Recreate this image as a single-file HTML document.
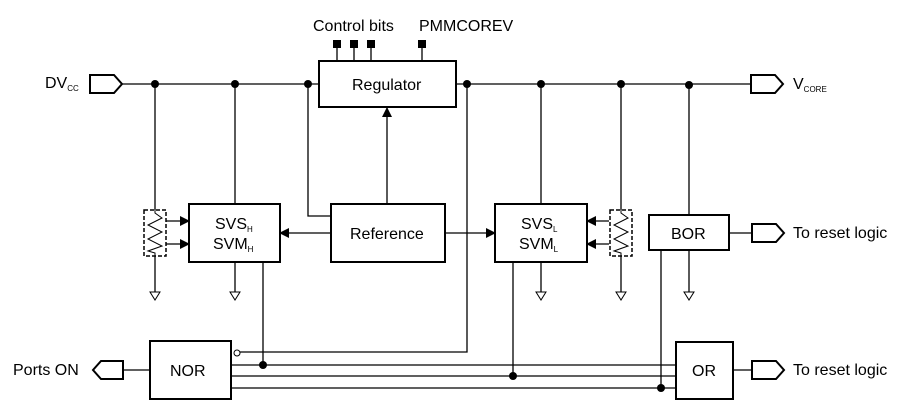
<!DOCTYPE html>
<html><head><meta charset="utf-8"><style>
html,body{margin:0;padding:0;background:#fff;}
svg{display:block;}
text{font-family:"Liberation Sans",Arial,sans-serif;fill:#000;}
</style></head><body>
<svg width="906" height="406" viewBox="0 0 906 406" xmlns="http://www.w3.org/2000/svg">
<defs>
<marker id="a" markerWidth="10" markerHeight="10" refX="9" refY="5" orient="auto" markerUnits="userSpaceOnUse"><path d="M0,0 L10,5 L0,10 Z" fill="#000"/></marker>
</defs>
<g stroke="#000" stroke-width="1.3" fill="none">
<line x1="122" y1="84" x2="319" y2="84"/>
<line x1="456" y1="84" x2="751" y2="84"/>
<line x1="337" y1="44" x2="337" y2="61"/><line x1="354" y1="44" x2="354" y2="61"/>
<line x1="371" y1="44" x2="371" y2="61"/><line x1="422" y1="44" x2="422" y2="61"/>
<line x1="155" y1="84" x2="155" y2="210"/><line x1="155" y1="256" x2="155" y2="292"/>
<line x1="235" y1="84" x2="235" y2="204"/><line x1="235" y1="262" x2="235" y2="292"/>
<line x1="263" y1="262" x2="263" y2="365"/>
<polyline points="308,84 308,216 331,216"/>
<line x1="387" y1="204" x2="387" y2="108" marker-end="url(#a)"/>
<line x1="331" y1="233" x2="280" y2="233" marker-end="url(#a)"/>
<line x1="445" y1="233" x2="495" y2="233" marker-end="url(#a)"/>
<line x1="166" y1="221" x2="189" y2="221" marker-end="url(#a)"/>
<line x1="166" y1="244" x2="189" y2="244" marker-end="url(#a)"/>
<line x1="609" y1="221" x2="587" y2="221" marker-end="url(#a)"/>
<line x1="609" y1="244" x2="587" y2="244" marker-end="url(#a)"/>
<polyline points="467,84 467,352 240,352"/>
<line x1="541" y1="84" x2="541" y2="204"/><line x1="541" y1="262" x2="541" y2="292"/>
<line x1="513" y1="262" x2="513" y2="376"/>
<line x1="621" y1="84" x2="621" y2="210"/><line x1="621" y1="256" x2="621" y2="292"/>
<line x1="689" y1="84" x2="689" y2="215"/><line x1="689" y1="250" x2="689" y2="292"/>
<line x1="661" y1="250" x2="661" y2="388"/>
<line x1="729" y1="233" x2="752" y2="233"/>
<line x1="231" y1="365" x2="676" y2="365"/>
<line x1="231" y1="376" x2="676" y2="376"/>
<line x1="231" y1="388" x2="676" y2="388"/>
<line x1="123" y1="370" x2="150" y2="370"/>
<line x1="733" y1="370" x2="752" y2="370"/>
<g stroke-width="1">
<path d="M150,292 L160,292 L155,300 Z"/><path d="M230,292 L240,292 L235,300 Z"/>
<path d="M536,292 L546,292 L541,300 Z"/><path d="M616,292 L626,292 L621,300 Z"/>
<path d="M684,292 L694,292 L689,300 Z"/>
</g>
<rect x="144" y="210" width="22" height="46" stroke-dasharray="4,2" stroke-width="1.5"/>
<polyline points="155,210 155,213 162,218 148,225 162,232 148,239 162,246 148,251 155,253 155,256" stroke-width="1"/>
<rect x="610" y="210" width="22" height="46" stroke-dasharray="4,2" stroke-width="1.5"/>
<polyline points="621,210 621,213 628,218 614,225 628,232 614,239 628,246 614,251 621,253 621,256" stroke-width="1"/>
<g stroke-width="2">
<rect x="319" y="61" width="137" height="46"/>
<rect x="331" y="204" width="114" height="58"/>
<rect x="189" y="204" width="91" height="58"/>
<rect x="495" y="204" width="92" height="58"/>
<rect x="649" y="215" width="80" height="35"/>
<rect x="150" y="341" width="81" height="58"/>
<rect x="676" y="342" width="57" height="57"/>
<path d="M90,75 L114,75 L122,84 L114,93 L90,93 Z"/>
<path d="M751,75 L775,75 L783,84 L775,93 L751,93 Z"/>
<path d="M752,224 L776,224 L784,233 L776,242 L752,242 Z"/>
<path d="M752,361 L776,361 L784,370 L776,379 L752,379 Z"/>
<path d="M123,361 L101,361 L93,370 L101,379 L123,379 Z"/>
</g>
<circle cx="237" cy="353" r="3" fill="#fff" stroke-width="1"/>
</g>
<g fill="#000">
<rect x="333" y="40" width="8" height="8"/><rect x="350" y="40" width="8" height="8"/>
<rect x="367" y="40" width="8" height="8"/><rect x="418" y="40" width="8" height="8"/>
<circle cx="155" cy="84" r="4"/><circle cx="235" cy="84" r="4"/><circle cx="308" cy="84" r="4"/>
<circle cx="467" cy="84" r="4"/><circle cx="541" cy="84" r="4"/><circle cx="621" cy="84" r="4"/><circle cx="689" cy="85" r="4"/>
<circle cx="263" cy="365" r="4"/><circle cx="513" cy="376" r="4"/><circle cx="661" cy="388" r="4"/>
</g>
<g font-size="16">
<text x="313" y="31">Control bits</text>
<text x="419" y="31">PMMCOREV</text>
<text x="352" y="90">Regulator</text>
<text x="350" y="239">Reference</text>
<text x="215" y="229">SVS<tspan font-size="8" dy="3">H</tspan></text>
<text x="213" y="249">SVM<tspan font-size="8" dy="3">H</tspan></text>
<text x="521" y="229">SVS<tspan font-size="8" dy="3">L</tspan></text>
<text x="519" y="249">SVM<tspan font-size="8" dy="3">L</tspan></text>
<text x="671" y="239">BOR</text>
<text x="170" y="376">NOR</text>
<text x="692" y="376">OR</text>
<text x="45" y="88">DV<tspan font-size="8" dy="3">CC</tspan></text>
<text x="793" y="89">V<tspan font-size="8" dy="3">CORE</tspan></text>
<text x="793" y="238">To reset logic</text>
<text x="793" y="375">To reset logic</text>
<text x="13" y="375">Ports ON</text>
</g>
</svg>
</body></html>
